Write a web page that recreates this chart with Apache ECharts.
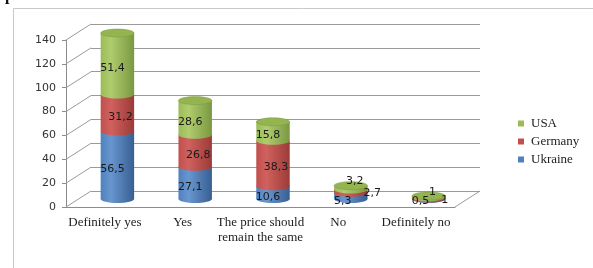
<html>
<head>
<meta charset="utf-8">
<title>chart</title>
<script src="https://cdn.jsdelivr.net/npm/echarts@6.0.0/dist/echarts.min.js"></script>
</head>
<body style="margin:0;background:#fff">
<div id="chartmain" style="width:593px;height:268px;"></div>
<script type="text/javascript">
var categories = ['Definitely yes', 'Yes', 'The price should\nremain the same', 'No', 'Definitely no'];
var ukraine = [56.5, 27.1, 10.6, 5.3, 0.5];
var germany = [31.2, 26.8, 38.3, 2.7, 1];
var usa = [51.4, 28.6, 15.8, 3.2, 1];
var yTicks = [0, 20, 40, 60, 80, 100, 120, 140];

// depth of the 3d box, in px
var DX = 25, DY = 16;
var front = { left: 66, right: 138, top: 40, bottom: 61 };

function shift(g, k) {
    return { left: g.left + DX * k, right: g.right - DX * k, top: g.top - DY * k, bottom: g.bottom + DY * k };
}
var back = shift(front, 1);
var mid = shift(front, 0.5);

function fmt(v) { return String(v).replace('.', ','); }

// stacked start / end for each series
function stackData(vals, base) {
    return vals.map(function (v, i) { return [i, base[i], base[i] + v, v]; });
}
var zero = ukraine.map(function () { return 0; });
var b1 = ukraine.slice();
var b2 = ukraine.map(function (v, i) { return v + germany[i]; });

var palette = {
    Ukraine: { c: '#4f81bd', l: '#6896cf', d: '#375f92' },
    Germany: { c: '#c0504d', l: '#d0615e', d: '#9c3b38' },
    USA: { c: '#9bbb59', l: '#afcc6e', d: '#7a9840', top: '#94b450' }
};

function cylinder(name, isTop) {
    var p = palette[name];
    return function (params, api) {
        var c = api.value(0), s = api.value(1), e = api.value(2), v = api.value(3);
        var pb = api.coord([c, s]), pt = api.coord([c, e]);
        var w = api.size([1, 0])[0] * 0.43;
        var rx = w / 2, ry = 4;
        var fill = new echarts.graphic.LinearGradient(0, 0, 1, 0, [
            { offset: 0, color: p.c }, { offset: 0.3, color: p.l }, { offset: 1, color: p.d }
        ]);
        var kids = [
            { type: 'rect', shape: { x: pb[0] - rx, y: pt[1], width: w, height: pb[1] - pt[1] }, style: { fill: fill } },
            { type: 'ellipse', shape: { cx: pb[0], cy: pb[1], rx: rx, ry: ry }, style: { fill: fill } }
        ];
        if (isTop) {
            kids.push({ type: 'ellipse', shape: { cx: pt[0], cy: pt[1], rx: rx, ry: ry },
                style: { fill: p.top, stroke: p.d, lineWidth: 0.5 } });
        }
        // label placement, small segments get pushed out
        var lx = pb[0] - 5, ly = (pb[1] + pt[1]) / 2 + 4, align = 'center';
        if (name == 'Germany') lx = pb[0] + 3;
        if (pb[1] - pt[1] < 8) {
            if (name == 'USA') { lx = pb[0] + 4; ly = pt[1] - 4; }
            else if (name == 'Germany') { lx = pb[0] + rx - 4; ly = (pb[1] + pt[1]) / 2 + 2; align = 'left'; }
            else { lx = pb[0] - 8; ly = pb[1] + 2; }
        }
        kids.push({ type: 'text', z2: 50, x: lx, y: ly,
            style: { text: fmt(v), fill: '#1a1a1a', font: '11px "DejaVu Sans"', align: align, verticalAlign: 'middle' } });
        return { type: 'group', children: kids };
    };
}

var myChart = echarts.init(document.getElementById('chartmain'));
myChart.setOption({
    animation: false,
    graphic: [
        { type: 'rect', shape: { x: 13.5, y: 8.5, width: 700, height: 400 }, style: { fill: 'none', stroke: '#c9c9c9', lineWidth: 1 } },
        { type: 'text', x: 5, y: -12, style: { text: 'p', font: 'bold 16px "Liberation Serif"', fill: '#111' } }
    ],
    legend: {
        orient: 'vertical',
        left: 513,
        top: 112,
        icon: 'rect',
        itemWidth: 6,
        itemHeight: 6,
        itemGap: 5,
        data: ['USA', 'Germany', 'Ukraine'],
        textStyle: { fontFamily: 'Liberation Serif', fontSize: 13, color: '#222', padding: [0, 0, 0, 2] }
    },
    grid: [
        { left: front.left, right: front.right, top: front.top, bottom: front.bottom },
        { left: back.left, right: back.right, top: back.top, bottom: back.bottom },
        { left: mid.left, right: mid.right, top: mid.top, bottom: mid.bottom }
    ],
    xAxis: [
        {
            type: 'category', gridIndex: 0, data: categories,
            axisLine: { lineStyle: { color: '#8c8c8c' } },
            axisTick: { length: 4, lineStyle: { color: '#8c8c8c' } },
            axisLabel: { interval: 0, margin: 8, color: '#222', fontFamily: 'Liberation Serif', fontSize: 13, lineHeight: 15 }
        },
        { type: 'category', gridIndex: 1, data: categories, show: false },
        { type: 'category', gridIndex: 2, data: categories, show: false }
    ],
    yAxis: [
        {
            type: 'value', gridIndex: 0, min: 0, max: 140, interval: 20,
            axisLine: { show: true, lineStyle: { color: '#8c8c8c' } },
            axisTick: { show: true, length: 4, lineStyle: { color: '#8c8c8c' } },
            axisLabel: { margin: 10, color: '#333', fontFamily: 'DejaVu Sans', fontSize: 11 },
            splitLine: { show: false }
        },
        {
            type: 'value', gridIndex: 1, min: 0, max: 140, interval: 20,
            axisLine: { show: false }, axisTick: { show: false }, axisLabel: { show: false },
            splitLine: { lineStyle: { color: '#9a9a9a' } }
        },
        { type: 'value', gridIndex: 2, min: 0, max: 140, interval: 20, show: false, splitLine: { show: false } }
    ],
    series: [
        {
            // left wall diagonals and floor edge
            type: 'custom', xAxisIndex: 1, yAxisIndex: 1, silent: true,
            data: yTicks.map(function (t) { return [0, t]; }),
            renderItem: function (params, api) {
                var cs = params.coordSys;
                var y = api.coord([0, api.value(1)])[1];
                var kids = [{ type: 'line', shape: { x1: cs.x - DX, y1: y + DY, x2: cs.x, y2: y }, style: { stroke: '#9a9a9a', lineWidth: 1 } }];
                if (api.value(1) === 0) {
                    var xr = cs.x + cs.width;
                    kids.push({ type: 'line', shape: { x1: xr - DX, y1: y + DY, x2: xr, y2: y }, style: { stroke: '#9a9a9a', lineWidth: 1 } });
                }
                return { type: 'group', children: kids };
            }
        },
        { name: 'Ukraine', type: 'custom', xAxisIndex: 2, yAxisIndex: 2, itemStyle: { color: palette.Ukraine.c },
          data: stackData(ukraine, zero), renderItem: cylinder('Ukraine', false) },
        { name: 'Germany', type: 'custom', xAxisIndex: 2, yAxisIndex: 2, itemStyle: { color: palette.Germany.c },
          data: stackData(germany, b1), renderItem: cylinder('Germany', false) },
        { name: 'USA', type: 'custom', xAxisIndex: 2, yAxisIndex: 2, itemStyle: { color: palette.USA.c },
          data: stackData(usa, b2), renderItem: cylinder('USA', true) }
    ]
});
</script>
</body>
</html>
